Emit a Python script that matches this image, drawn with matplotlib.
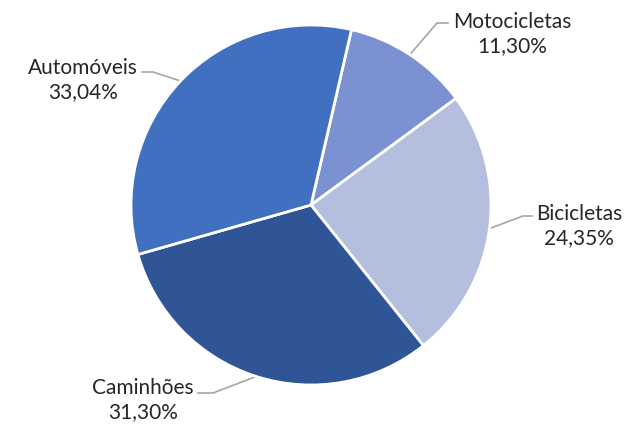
import matplotlib.pyplot as plt
import numpy as np

labels = ['Motocicletas', 'Bicicletas', 'Caminhões', 'Automóveis']
shares = [11.30, 24.35, 31.30, 33.04]
colors = ['#7b91d1', '#b4bfe0', '#2f5597', '#4170c0']

# label box centres and leader elbow points, in pixels of the 637x426 image
text_pos = [(512, 34), (579, 226), (143, 400), (83, 80)]
elbows = [[(448, 23), (437, 23)], [(532, 216), (523, 216)],
          [(198, 393), (213, 393)], [(142, 72), (153, 72)]]

W, H = 637, 426
cx, cy, R = 311, 205, 180


def px(x, y):
    return (x - cx) / R, (cy - y) / R


fig = plt.figure(figsize=(W / 100, H / 100), dpi=100)
ax = fig.add_axes([0, 0, 1, 1])
wedges, _ = ax.pie(shares, colors=colors, startangle=77, counterclock=False,
                   radius=1, wedgeprops=dict(edgecolor='white', linewidth=2))
ax.set_xlim(px(0, 0)[0], px(W, 0)[0])
ax.set_ylim(px(0, H)[1], px(0, 0)[1])
ax.axis('off')

for w, lab, val, tp, elb in zip(wedges, labels, shares, text_pos, elbows):
    mid = np.deg2rad((w.theta1 + w.theta2) / 2)
    start = (np.cos(mid), np.sin(mid))
    pts = [px(*p) for p in elb]
    xs = [pts[0][0], pts[1][0], start[0]]
    ys = [pts[0][1], pts[1][1], start[1]]
    ax.plot(xs, ys, color='#a6a6a6', lw=1.2, zorder=0)
    txt = f'{lab}\n{val:.2f}%'.replace('.', ',')
    ax.text(*px(*tp), txt, ha='center', va='center', fontsize=15,
            family='Lato', color='#262626', linespacing=1.3)

fig.savefig('out.png', dpi=100)
